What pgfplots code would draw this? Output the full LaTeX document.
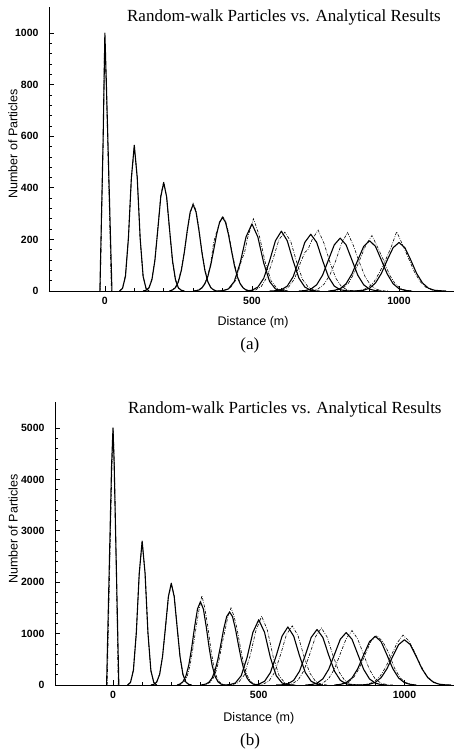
\documentclass[border=0pt]{standalone}
\usepackage{fontspec}
\setmainfont{Liberation Serif}
\newfontfamily\hv{Liberation Sans}
\usepackage{pgfplots}
\pgfplotsset{compat=1.18}

\pgfplotsset{
  ana/.style={black, line width=1.1pt, line join=round},
  rwk/.style={black, line width=0.6pt, dash pattern=on 3pt off 1.4pt on 0.7pt off 1.4pt},
  panel/.style={
    scale only axis, axis lines=left, axis line style={-, line width=0.9pt},
    tick align=inside, major tick length=5pt, minor tick length=3pt,
    tick style={black, line width=0.7pt},
    minor y tick num=4, xtick={0,500,1000}, minor x tick num=4,
    scaled ticks=false,
    /pgf/number format/assume math mode=true,
    /pgf/number format/1000 sep={},
    ticklabel style={font=\hv\bfseries\fontsize{10.5}{11}\selectfont},
    xticklabel style={yshift=-3pt}, yticklabel style={xshift=-7pt},
    label style={font=\hv\fontsize{12.5}{14}\selectfont},
    every axis title shift=0pt,
    title style={font=\fontsize{17}{19}\selectfont, anchor=center},
    every axis plot/.append style={no marks},
    clip=false, ymin=0,
  },
}

\begin{document}
\begin{tikzpicture}
\useasboundingbox (0pt,0pt) rectangle (454pt,-756pt);

% ---------------- (a) ----------------
\begin{axis}[panel,
  at={(49pt,-291pt)}, anchor=south west, width=405pt, height=284pt,
  xmin=-190, xmax=1187, ymax=1101, ytick={0,200,...,1000},
  title={Random-walk Particles vs. Analytical Results},
  title style={at={(axis description cs:0.580,0.965)}},
  xlabel={Distance (m)}, xlabel style={at={(axis description cs:0.504,-0.109)}, anchor=center},
  ylabel={Number of Particles}, ylabel style={at={(axis description cs:-0.089,0.518)}, anchor=center},
]
% analytical
\addplot[ana] coordinates {(-17,0)(-6,585)(0,1000)(5,805)(24,0)};
\addplot[ana] coordinates {(50,0)(60,10)(70,57)(80,204)(90,438)(100,565)(110,438)(120,204)(130,57)(140,10)(150,0)};
\addplot[ana] coordinates {(130,0)(140,3)(150,12)(160,44)(170,118)(180,238)(190,365)(200,420)(210,365)(220,238)(230,118)(240,44)(250,12)(260,3)(270,0)};
\addplot[ana] coordinates {(220,0)(230,4)(240,13)(250,36)(260,80)(270,149)(280,234)(290,306)(300,335)(310,306)(320,234)(330,149)(340,80)(350,36)(360,13)(370,4)(380,0)};
\addplot[ana] coordinates {(300,0)(310,1)(320,4)(330,12)(340,28)(350,56)(360,101)(370,159)(380,220)(390,267)(400,285)(410,267)(420,220)(430,159)(440,101)(450,56)(460,28)(470,12)(480,4)(490,1)(500,0)};
\addplot[ana] coordinates {(380,0)(400,1)(420,8)(440,37)(460,109)(480,210)(500,260)(520,210)(540,109)(560,37)(580,8)(600,1)(620,0)};
\addplot[ana] coordinates {(480,0)(500,3)(520,15)(540,49)(560,117)(580,195)(600,232)(620,195)(640,117)(660,49)(680,15)(700,3)(720,0)};
\addplot[ana] coordinates {(560,0)(580,1)(600,5)(620,19)(640,55)(660,119)(680,189)(700,220)(720,189)(740,119)(760,55)(780,19)(800,5)(820,1)(840,0)};
\addplot[ana] coordinates {(660,0)(680,1.5)(700,7)(720,24)(740,61)(760,120)(780,179)(800,205)(820,179)(840,120)(860,61)(880,24)(900,7)(920,1.5)(940,0)};
\addplot[ana] coordinates {(760,0)(780,2.5)(800,9)(820,28)(840,66)(860,120)(880,173)(900,195)(920,173)(940,120)(960,66)(980,28)(1000,9)(1020,2.5)(1040,0)};
\addplot[ana] coordinates {(840,0)(860,1)(880,3)(900,11)(920,31)(940,68)(960,120)(980,168)(1000,188)(1020,168)(1040,120)(1060,68)(1080,31)(1100,11)(1120,3)(1140,1)(1160,0)};
% random walk
\addplot[rwk] coordinates {(-16,0)(-6,570)(-1,985)(5,790)(22,0)};
\addplot[rwk] coordinates {(50,0)(60,12)(70,62)(80,210)(90,430)(100,560)(110,446)(120,198)(130,55)(140,8)(150,0)};
\addplot[rwk] coordinates {(130,0)(140,4)(150,14)(160,48)(170,122)(180,245)(190,370)(200,425)(210,360)(220,232)(230,112)(240,42)(250,11)(260,2)(270,0)};
\addplot[rwk] coordinates {(220,0)(230,5)(240,15)(250,40)(260,85)(270,150)(280,228)(290,300)(300,340)(310,312)(320,240)(330,155)(340,84)(350,38)(360,14)(370,5)(380,0)};
\addplot[rwk] coordinates {(300,0)(310,2)(320,5)(330,14)(340,30)(350,60)(360,108)(370,190)(380,230)(390,262)(400,290)(410,272)(420,228)(430,165)(440,108)(450,60)(460,30)(470,13)(480,5)(490,1)(500,0)};
\addplot[rwk] coordinates {(385,0)(405,2)(425,10)(445,42)(465,120)(475,150)(485,205)(505,280)(525,215)(545,112)(565,40)(585,10)(605,2)(625,0)};
\addplot[rwk] coordinates {(490,0)(512,4)(532,18)(552,55)(572,125)(592,200)(612,228)(632,192)(652,112)(672,45)(692,14)(712,3)(732,0)};
\addplot[rwk] coordinates {(580,0)(605,4)(625,16)(645,48)(665,110)(680,150)(690,160)(705,200)(725,236)(745,185)(765,112)(785,50)(805,16)(825,4)(845,0)};
\addplot[rwk] coordinates {(680,0)(705,2)(725,8)(745,26)(765,62)(785,118)(805,185)(825,227)(845,176)(865,112)(885,55)(905,20)(925,6)(945,1)(965,0)};
\addplot[rwk] coordinates {(768,0)(788,3)(808,10)(828,30)(848,70)(868,125)(888,180)(908,215)(928,168)(948,118)(968,62)(988,26)(1008,8)(1028,2)(1048,0)};
\addplot[rwk] coordinates {(835,0)(855,1)(875,4)(895,13)(915,35)(935,75)(955,122)(975,175)(992,230)(1012,180)(1032,128)(1052,75)(1072,36)(1092,14)(1112,4)(1132,1)(1152,0)};
\node[font=\fontsize{17}{19}\selectfont] at (axis description cs:0.496,-0.190) {(a)};
\end{axis}

% ---------------- (b) ----------------
\begin{axis}[panel,
  at={(55pt,-685pt)}, anchor=south west, width=399pt, height=283pt,
  xmin=-199, xmax=1170, ymax=5506, ytick={0,1000,...,5000},
  title={Random-walk Particles vs. Analytical Results},
  title style={at={(axis description cs:0.576,0.975)}},
  xlabel={Distance (m)}, xlabel style={at={(axis description cs:0.511,-0.117)}, anchor=center},
  ylabel={Number of Particles}, ylabel style={at={(axis description cs:-0.105,0.551)}, anchor=center},
]
% analytical
\addplot[ana] coordinates {(-22,0)(-5,4250)(0,5000)(4,4300)(20,0)};
\addplot[ana] coordinates {(50,0)(60,48)(70,283)(80,1011)(90,2173)(100,2800)(110,2173)(120,1011)(130,283)(140,48)(150,0)};
\addplot[ana] coordinates {(130,0)(140,12)(150,57)(160,206)(170,554)(180,1125)(190,1719)(200,1980)(210,1719)(220,1125)(230,554)(240,206)(250,57)(260,12)(270,0)};
\addplot[ana] coordinates {(220,0)(230,20)(240,64)(250,172)(260,386)(270,723)(280,1131)(290,1481)(300,1620)(310,1481)(320,1131)(330,723)(340,386)(350,172)(360,64)(370,20)(380,0)};
\addplot[ana] coordinates {(300,0)(310,7)(320,22)(330,59)(340,137)(350,280)(360,503)(370,791)(380,1095)(390,1331)(400,1420)(410,1331)(420,1095)(430,791)(440,503)(450,280)(460,137)(470,59)(480,22)(490,7)(500,0)};
\addplot[ana] coordinates {(380,0)(400,6)(420,40)(440,182)(460,535)(480,1024)(500,1270)(520,1024)(540,535)(560,182)(580,40)(600,6)(620,0)};
\addplot[ana] coordinates {(480,0)(500,15)(520,72)(540,241)(560,568)(580,951)(600,1130)(620,951)(640,568)(660,241)(680,72)(700,15)(720,0)};
\addplot[ana] coordinates {(560,0)(580,4)(600,23)(620,91)(640,269)(660,582)(680,926)(700,1080)(720,926)(740,582)(760,269)(780,91)(800,23)(820,4)(840,0)};
\addplot[ana] coordinates {(660,0)(680,8)(700,36)(720,119)(740,305)(760,597)(780,891)(800,1020)(820,891)(840,597)(860,305)(880,119)(900,36)(920,8)(940,0)};
\addplot[ana] coordinates {(760,0)(780,12)(800,46)(820,136)(840,319)(860,585)(880,842)(900,950)(920,842)(940,585)(960,319)(980,136)(1000,46)(1020,12)(1040,0)};
\addplot[ana] coordinates {(840,0)(860,4)(880,15)(900,52)(920,143)(940,317)(960,559)(980,786)(1000,880)(1020,786)(1040,559)(1060,317)(1080,143)(1100,52)(1120,15)(1140,4)(1160,0)};
% random walk
\addplot[rwk] coordinates {(-20,0)(-4,4150)(1,4950)(5,4200)(18,0)};
\addplot[rwk] coordinates {(50,0)(60,55)(70,300)(80,1040)(90,2150)(100,2780)(110,2190)(120,990)(130,270)(140,45)(150,0)};
\addplot[rwk] coordinates {(130,0)(140,14)(150,60)(160,215)(170,570)(180,1100)(190,1700)(200,1960)(210,1740)(220,1150)(230,540)(240,200)(250,55)(260,10)(270,0)};
\addplot[rwk] coordinates {(225,0)(235,22)(245,70)(255,180)(265,400)(275,740)(285,1120)(295,1460)(305,1740)(315,1500)(325,1150)(335,730)(345,380)(355,165)(365,60)(375,18)(385,0)};
\addplot[rwk] coordinates {(305,0)(315,8)(325,25)(335,62)(345,145)(355,290)(365,520)(375,820)(385,1080)(395,1350)(405,1500)(415,1340)(425,1110)(435,800)(445,500)(455,275)(465,130)(475,55)(485,20)(495,6)(505,0)};
\addplot[rwk] coordinates {(390,0)(410,8)(430,45)(450,190)(470,560)(490,1050)(510,1340)(530,1060)(550,540)(570,180)(590,38)(610,6)(630,0)};
\addplot[rwk] coordinates {(495,0)(515,16)(535,75)(555,250)(575,590)(595,980)(615,1150)(635,960)(655,560)(675,235)(695,70)(715,14)(735,0)};
\addplot[rwk] coordinates {(575,0)(595,5)(615,25)(635,95)(655,280)(675,600)(695,940)(715,1110)(735,930)(755,570)(775,260)(795,88)(815,22)(835,4)(855,0)};
\addplot[rwk] coordinates {(680,0)(700,9)(720,38)(740,125)(760,315)(780,610)(800,900)(820,1060)(840,890)(860,590)(880,300)(900,115)(920,35)(940,8)(960,0)};
\addplot[rwk] coordinates {(765,0)(785,13)(805,48)(825,140)(845,325)(865,590)(885,850)(905,960)(925,850)(945,640)(965,340)(985,140)(1005,45)(1025,12)(1045,0)};
\addplot[rwk] coordinates {(835,0)(855,5)(875,18)(895,60)(915,160)(935,340)(955,580)(975,820)(995,970)(1015,860)(1035,640)(1055,390)(1075,190)(1095,75)(1115,20)(1135,5)(1155,0)};
\node[font=\fontsize{17}{19}\selectfont] at (axis description cs:0.489,-0.201) {(b)};
\end{axis}
\end{tikzpicture}
\end{document}
